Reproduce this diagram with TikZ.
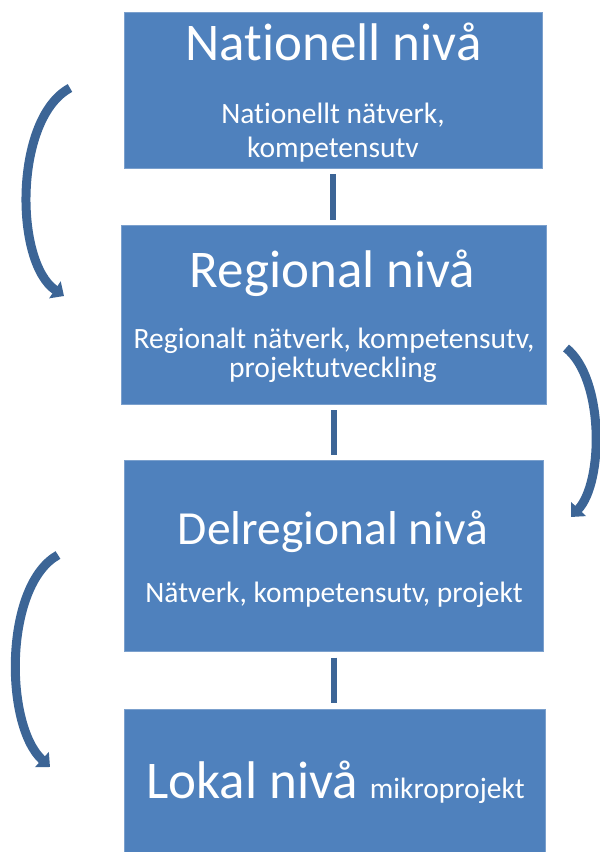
\documentclass[tikz,border=0pt]{standalone}
\usepackage{fontspec}
\setmainfont[Ligatures=NoCommon]{Carlito}
\usetikzlibrary{arrows.meta}

\definecolor{boxblue}{RGB}{79,129,189}
\definecolor{lineblue}{RGB}{60,101,150}

\begin{document}
\begin{tikzpicture}[x=1pt,y=-1pt,
    levelbox/.style={rectangle,fill=boxblue,draw=boxblue!75!white,line width=0.8pt,inner sep=0pt,outer sep=0pt},
    title/.style={anchor=base,text=white,font=\fontsize{53}{60}\selectfont,inner sep=0pt},
    sub/.style={anchor=base,text=white,font=\fontsize{29.5}{34}\selectfont,inner sep=0pt},
    link/.style={draw=lineblue,line width=6pt},
    bendarrow/.style={draw=lineblue,line width=9pt,line cap=butt,-{Triangle[length=11pt,width=20pt]}}]
    \useasboundingbox (0,0) rectangle (600,852);

    % the four levels
    \node[levelbox,minimum width=418pt,minimum height=156pt] (nat) at (333,90) {};
    \node[levelbox,minimum width=425pt,minimum height=179pt] (reg) at (333.5,314.5) {};
    \node[levelbox,minimum width=419pt,minimum height=191pt] (del) at (333.5,556) {};
    \node[levelbox,minimum width=421pt,minimum height=160pt] (lok) at (334.5,789) {};

    % texts
    \node[title] (natT) at (333.5,60) {Nationell nivå};
    \node[sub] (natS1) at (333,123) {Nationellt nätverk,};
    \node[sub] (natS2) at (333,157) {kompetensutv};
    \node[title] (regT) at (332.5,287) {Regional nivå};
    \node[sub] (regS1) at (334,348) {Regionalt nätverk, kompetensutv,};
    \node[sub] (regS2) at (333,377) {projektutveckling};
    \node[title,font=\fontsize{47.5}{54}\selectfont] (delT) at (333,544) {Delregional nivå};
    \node[sub] (delS) at (334,602) {Nätverk, kompetensutv, projekt};
    \node[anchor=base,text=white,inner sep=0pt] (lokT) at (335.5,798)
      {\fontsize{53}{60}\selectfont Lokal nivå\ \fontsize{29.5}{34}\selectfont mikroprojekt};

    % links between levels
    \draw[link,shorten <=6pt,shorten >=5pt] (nat.south) -- (nat.south |- reg.north);
    \draw[link,shorten <=6pt,shorten >=6pt] (reg.south) -- (reg.south |- del.north);
    \draw[link,shorten <=6pt,shorten >=6pt] (del.south) -- (del.south |- lok.north);

    % curved arrows
    \coordinate (a1) at (70,88);
    \coordinate (b1) at (64,296);
    \coordinate (a2) at (566,348);
    \coordinate (b2) at (571,517);
    \coordinate (a3) at (58,555);
    \coordinate (b3) at (50,767);
    \draw[bendarrow] (a1) .. controls (14,118) and (14,262) .. (b1);
    \draw[bendarrow] (a2) .. controls (604,378) and (604,482) .. (b2);
    \draw[bendarrow] (a3) .. controls (4,585) and (4,725) .. (b3);
\end{tikzpicture}
\end{document}
